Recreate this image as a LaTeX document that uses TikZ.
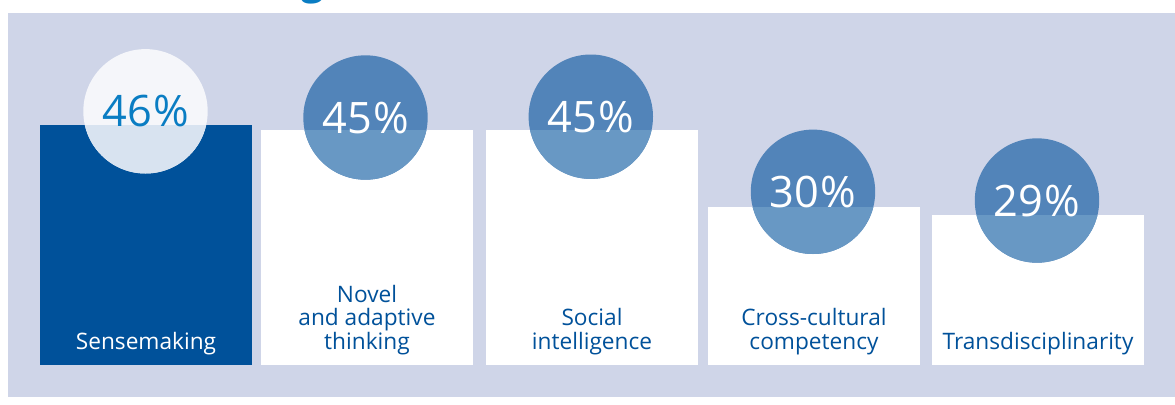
\documentclass[tikz,border=0pt]{standalone}
\usepackage{fontspec}
\setmainfont{Open Sans}

\definecolor{panelgray}{RGB}{207,213,232}
\definecolor{barblue}{RGB}{0,81,154}
\definecolor{discblue}{RGB}{82,132,185}
\definecolor{discpale}{RGB}{104,152,196}
\definecolor{discwhite}{RGB}{245,246,250}
\definecolor{discmist}{RGB}{216,227,240}
\definecolor{pctblue}{RGB}{10,125,195}

\tikzset{every picture/.style={line width=0.75pt},
  pcttext/.style={anchor=base,inner sep=0pt,font=\fontsize{32.5}{32.5}\selectfont},
  skilltext/.style={anchor=base,inner sep=0pt,align=center,text=barblue,font=\fontsize{17}{17.6}\selectfont},
  titletext/.style={anchor=base,inner sep=0pt,text=pctblue,font=\bfseries\fontsize{30}{30}\selectfont}}

\begin{document}
\begin{tikzpicture}[x=0.75pt,y=0.75pt,yscale=-1,xscale=1]
\useasboundingbox (0,0) rectangle (1175,404);

% Text Node
\draw (313,-6) node [titletext] (titletail) {g};

%Shape: Rectangle
\fill [panelgray] (8,13) rectangle (1175,397);

%Shape: Rectangle
\fill [barblue] (40,125) rectangle (252,365);
%Shape: Rectangle
\fill [white] (261,130) rectangle (473,365);
%Shape: Rectangle
\fill [white] (486,130) rectangle (698,365);
%Shape: Rectangle
\fill [white] (708,207) rectangle (920,365);
%Shape: Rectangle
\fill [white] (932,215) rectangle (1144,365);

%Shape: Circle
\fill [discwhite] (145.5,111.3) circle (62.2);
\begin{scope}
\clip (40,125) rectangle (252,365);
\fill [discmist] (145.5,111.3) circle (62.2);
\end{scope}
%Shape: Circle
\fill [discblue] (365.5,117.5) circle (62.2);
\begin{scope}
\clip (261,130) rectangle (473,365);
\fill [discpale] (365.5,117.5) circle (62.2);
\end{scope}
%Shape: Circle
\fill [discblue] (590.8,116.7) circle (62.2);
\begin{scope}
\clip (486,130) rectangle (698,365);
\fill [discpale] (590.8,116.7) circle (62.2);
\end{scope}
%Shape: Circle
\fill [discblue] (813,191.8) circle (62.2);
\begin{scope}
\clip (708,207) rectangle (920,365);
\fill [discpale] (813,191.8) circle (62.2);
\end{scope}
%Shape: Circle
\fill [discblue] (1037,200.5) circle (62.2);
\begin{scope}
\clip (932,215) rectangle (1144,365);
\fill [discpale] (1037,200.5) circle (62.2);
\end{scope}

% Text Node
\draw (145.5,126.7) node [pcttext,text=pctblue] (sensepct) {46\kern1pt\%};
% Text Node
\draw (365.5,133.2) node [pcttext,text=white] (novelpct) {45\kern1pt\%};
% Text Node
\draw (590.8,132.4) node [pcttext,text=white] (socialpct) {45\kern1pt\%};
% Text Node
\draw (813,207.5) node [pcttext,text=white] (crosspct) {30\kern1pt\%};
% Text Node
\draw (1037,216.2) node [pcttext,text=white] (transpct) {29\kern1pt\%};

% Text Node
\draw (146,349) node [skilltext,text=white] (senselbl) {Sensemaking};
% Text Node
\draw (367,349) node [skilltext] (novellbl) {Novel\\and adaptive\\thinking};
% Text Node
\draw (592,349) node [skilltext] (sociallbl) {Social\\intelligence};
% Text Node
\draw (814,349) node [skilltext] (crosslbl) {Cross-cultural\\competency};
% Text Node
\draw (1038,349) node [skilltext] (translbl) {Transdisciplinarity};

\end{tikzpicture}
\end{document}
